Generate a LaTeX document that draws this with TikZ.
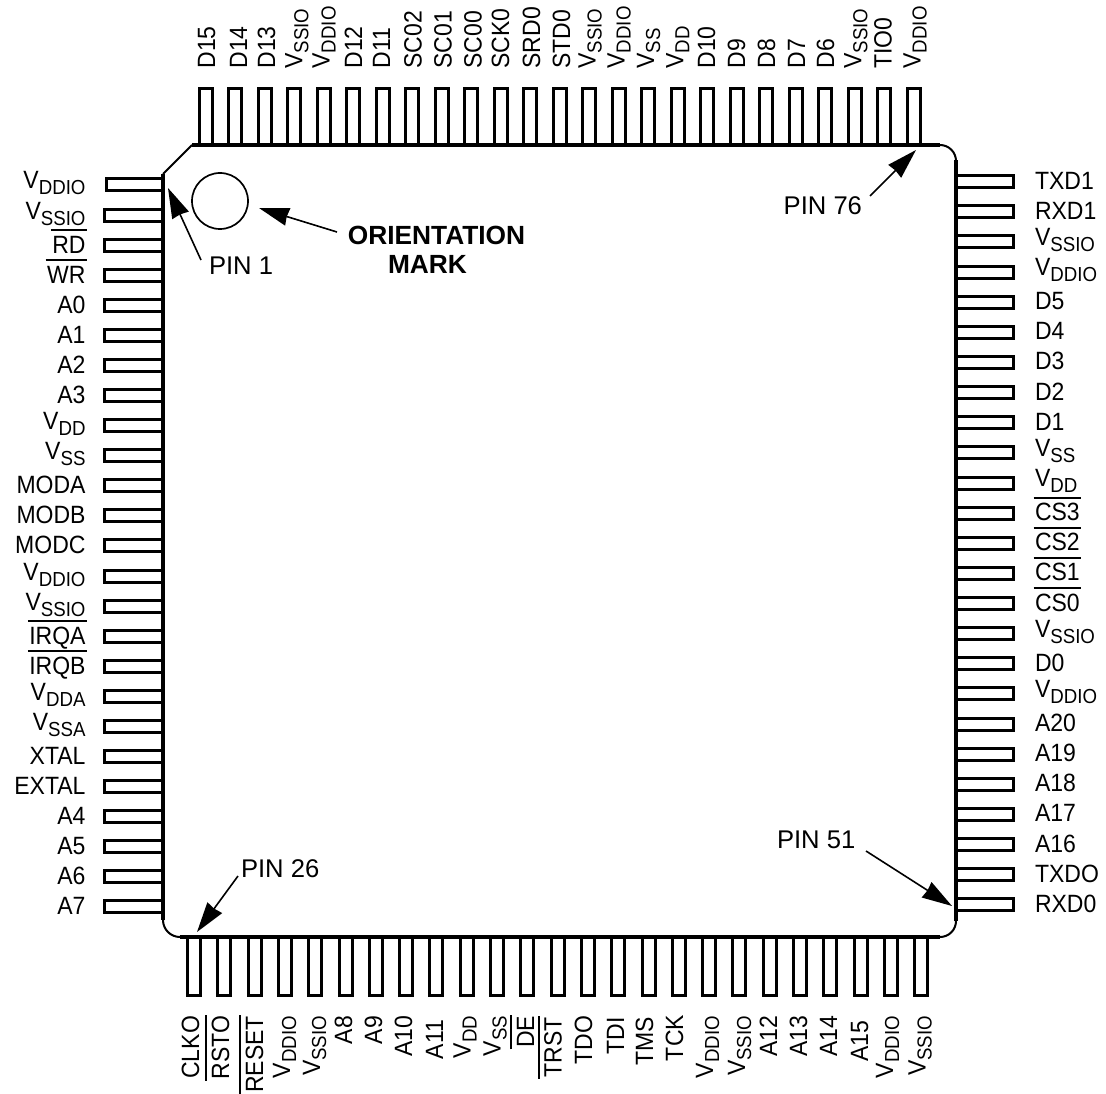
\documentclass[tikz,border=0pt]{standalone}
\usepackage{fontspec}
\setmainfont{Liberation Sans}[FakeStretch=0.92]
\newfontfamily\callf{Liberation Sans}
\usetikzlibrary{arrows.meta}
\newlength{\obw}
\newcommand{\ob}[1]{\settowidth{\obw}{#1}\rlap{\kern-1.5pt\rule[22pt]{\dimexpr\obw+3pt\relax}{2pt}}#1}
\newcommand{\vs}[1]{\raisebox{4pt}{V}\raisebox{-2pt}{\fontsize{20.3}{21}\selectfont #1}}
\tikzset{
  x=1pt,y=-1pt,
  lab/.style={inner sep=0pt,outer sep=0pt,font=\fontsize{25}{26}\selectfont,text=black},
  callout/.style={inner sep=0pt,outer sep=0pt,font=\callf\fontsize{25.6}{27}\selectfont,text=black},
  calloutb/.style={inner sep=0pt,outer sep=0pt,font=\callf\fontsize{26.3}{27}\selectfont\bfseries,text=black},
  pin/.style={draw=black,line width=3pt,line join=miter,fill=white},
  edge/.style={draw=black,line width=3.6pt},
  thinedge/.style={draw=black,line width=2pt},
  pointer/.style={draw=black,line width=1.6pt,-{Stealth[length=30pt,width=18pt,inset=1pt]}},
}
\begin{document}
\begin{tikzpicture}
\useasboundingbox (0,0) rectangle (1106,1094);
% left side
\foreach \t [count=\i from 0] in {\vs{DDIO},\vs{SSIO},\ob{RD},\ob{WR},A0,A1,A2,A3,\vs{DD},\vs{SS},MODA,MODB,MODC,\vs{DDIO},\vs{SSIO},\ob{IRQA},\ob{IRQB},\vs{DDA},\vs{SSA},XTAL,EXTAL,A4,A5,A6,A7}{
  \pgfmathsetmacro{\p}{185+30.08*\i}
  \pgfmathsetmacro{\q}{\i==0 ? 106 : 104.5}
  \draw[pin] (\q,\p-6) rectangle (163,\p+6);
  \node[lab,anchor=base east] (L\i) at (85.5,\p+8) {\t};
}
% right side
\foreach \t [count=\i from 0] in {TXD1,RXD1,\vs{SSIO},\vs{DDIO},D5,D4,D3,D2,D1,\vs{SS},\vs{DD},\ob{CS3},\ob{CS2},\ob{CS1},\ob{CS0},\vs{SSIO},D0,\vs{DDIO},A20,A19,A18,A17,A16,TXDO,RXD0}{
  \pgfmathsetmacro{\p}{181.7+30.13*\i}
  \draw[pin] (956,\p-6) rectangle (1013,\p+6);
  \node[lab,anchor=base west] (R\i) at (1035,\p+7.5) {\t};
}
% top side: label / baseline x
\foreach \t/\bx [count=\i from 0] in {D15/215,D14/247,D13/275,\vs{SSIO}/306.3,\vs{DDIO}/333.7,D12/362,D11/390,SC02/421.7,SC01/451.7,SC00/481.7,SCK0/509,SRD0/540,STD0/570,\vs{SSIO}/599.7,\vs{DDIO}/628.7,\vs{SS}/658,\vs{DD}/687.3,D10/715,D9/745,D8/775,D7/805,D6/834,\vs{SSIO}/865.3,TIO0/891.7,\vs{DDIO}/924.7}{
  \pgfmathsetmacro{\p}{205.5+29.5*\i}
  \draw[pin] (\p-6.5,89) rectangle (\p+6.5,145);
  \node[lab,rotate=90,anchor=base west] (T\i) at (\bx,68.5) {\t};
}
% bottom side: label / baseline x / top y
\foreach \t/\bx/\by [count=\i from 0] in {CLKO/199/1016,\ob{RSTO}/229/1016,\ob{RESET}/263/1016,\vs{DDIO}/294/1016,\vs{SSIO}/324/1016,A8/352/1016,A9/382/1016,A10/412/1016,A11/443/1020,\vs{DD}/474.7/1016,\vs{SS}/504.7/1016,\ob{DE}/534/1016,\ob{TRST}/561.7/1017,TDO/592/1016,TDI/624/1017,TMS/653/1017,TCK/683/1015,\vs{DDIO}/717/1016,\vs{SSIO}/749/1016,A12/777/1016,A13/807/1016,A14/837/1016,A15/868/1021,\vs{DDIO}/897/1016,\vs{SSIO}/929.7/1016}{
  \pgfmathsetmacro{\p}{194+30.3*\i}
  \draw[pin] (\p-6.5,937) rectangle (\p+6.5,995);
  \node[lab,rotate=90,anchor=base east] (B\i) at (\bx,\by) {\t};
}
% body
\draw[edge] (192,145) -- (940,145);
\draw[edge] (956,160) -- (956,921);
\draw[edge] (180,937) -- (940,937);
\draw[edge] (163,174) -- (163,920);
\draw[thinedge] (163,174) -- (192,145);
\draw[thinedge] (940,145) arc[start angle=-90,end angle=0,radius=16];
\draw[thinedge] (956,921) arc[start angle=0,end angle=90,radius=16];
\draw[thinedge] (180,937) arc[start angle=90,end angle=180,radius=17];
\node[draw=black,line width=1.7pt,circle,minimum size=56pt,inner sep=0pt] (mark) at (220,201) {};
% callout labels
\node[callout,anchor=base west] (p1) at (209,274) {PIN 1};
\node[calloutb,anchor=base] (om1) at (436.5,245) {ORIENTATION};
\node[calloutb,anchor=base] (om2) at (427.5,273) {MARK};
\node[callout,anchor=base east] (p76) at (862,215) {PIN 76};
\node[callout,anchor=base west] (p26) at (241,877) {PIN 26};
\node[callout,anchor=base west] (p51) at (777,848) {PIN 51};
% arrow ends
\coordinate (a1s) at (201,260); \coordinate (a1t) at (168,188);
\coordinate (a2s) at (337,232); \coordinate (a2t) at (259,208);
\coordinate (a3s) at (870,196); \coordinate (a3t) at (916,150);
\coordinate (a4s) at (238,876); \coordinate (a4t) at (197,932);
\coordinate (a5s) at (866,851); \coordinate (a5t) at (952,906);
\draw[pointer] (a1s) -- (a1t);
\draw[pointer] (a2s) -- (a2t);
\draw[pointer] (a3s) -- (a3t);
\draw[pointer] (a4s) -- (a4t);
\draw[pointer] (a5s) -- (a5t);
\end{tikzpicture}
\end{document}
